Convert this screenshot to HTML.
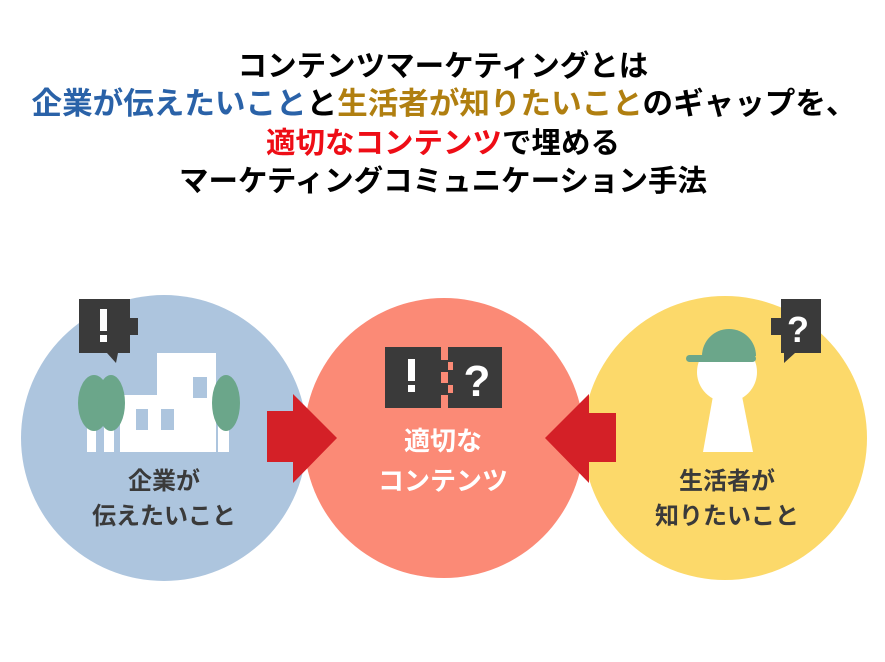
<!DOCTYPE html>
<html><head><meta charset="utf-8"><style>
html,body{margin:0;padding:0;background:#fff;width:885px;height:662px;overflow:hidden}
svg{display:block}
text{font-family:"Liberation Sans","Noto Sans CJK JP",sans-serif;font-weight:bold}
</style></head><body>
<svg width="885" height="662" viewBox="0 0 885 662" xmlns="http://www.w3.org/2000/svg">
<g font-size="29.5" text-anchor="middle" fill="#000">
<text x="443" y="76">コンテンツマーケティングとは</text>
<text x="444" y="114" textLength="825" lengthAdjust="spacingAndGlyphs" font-size="30.5"><tspan fill="#2a62a8">企業が伝えたいこと</tspan>と<tspan fill="#b07f10">生活者が知りたいこと</tspan>のギャップを、</text>
<text x="443" y="153"><tspan fill="#ee0d16">適切なコンテンツ</tspan>で埋める</text>
<text x="443" y="191">マーケティングコミュニケーション手法</text>
</g>
<circle cx="164" cy="438" r="143" fill="#adc5de"/>
<circle cx="725" cy="438" r="142" fill="#fcd96a"/>
<circle cx="444" cy="438" r="140" fill="#fb8a76"/>
<polygon points="267,411 293,411 293,394 337,438 293,483 293,462 267,462" fill="#d42027"/>
<polygon points="616,413 589,413 589,394 545,438 589,483 589,462 616,462" fill="#d42027"/>
<polygon points="79,299 130,299 130,318 138,318 138,335 130,335 130,353 118,353 116,363 107,353 79,353" fill="#3a3a3a"/>
<rect x="100" y="309" width="7" height="22" fill="#fff"/><rect x="100" y="335" width="7" height="7" fill="#fff"/>
<rect x="157" y="353" width="59" height="99" fill="#fff"/>
<rect x="120" y="395" width="96" height="57" fill="#fff"/>
<rect x="193" y="377" width="14" height="21" fill="#adc5de"/>
<rect x="136" y="409" width="12" height="21" fill="#adc5de"/>
<rect x="161" y="409" width="13" height="21" fill="#adc5de"/>
<rect x="87" y="425" width="9" height="27" fill="#fff"/><rect x="104" y="425" width="10" height="27" fill="#fff"/>
<rect x="218" y="425" width="11" height="27" fill="#fff"/>
<ellipse cx="94" cy="403" rx="16" ry="28" fill="#6ba68a"/>
<ellipse cx="111" cy="403" rx="14" ry="28" fill="#6ba68a"/>
<ellipse cx="226" cy="403" rx="14" ry="28" fill="#6ba68a"/>
<g font-size="24" fill="#3a3a3a" text-anchor="middle">
<text x="164" y="489">企業が</text>
<text x="164" y="524">伝えたいこと</text>
</g>
<rect x="385" y="347" width="117" height="61" fill="#3a3a3a"/>
<rect x="441" y="347" width="7" height="61" fill="#fb8a76"/>
<rect x="441" y="360" width="14" height="12" fill="#3a3a3a"/>
<rect x="441" y="383" width="14" height="12" fill="#3a3a3a"/>
<rect x="448" y="362" width="5" height="8" fill="#fb8a76"/>
<rect x="448" y="385" width="5" height="8" fill="#fb8a76"/>
<rect x="408" y="359" width="7" height="22" fill="#fff"/><rect x="408" y="385" width="7" height="7" fill="#fff"/>
<text x="477" y="396" font-size="44" fill="#fff" text-anchor="middle" style="font-weight:900">?</text>
<g font-size="26" fill="#fff" text-anchor="middle">
<text x="443" y="450">適切な</text>
<text x="443" y="490">コンテンツ</text>
</g>
<circle cx="727" cy="372" r="30" fill="#fff"/>
<polygon points="713,396 742,396 753,452 703,452" fill="#fff"/>
<path d="M702,356 A27,27 0 0 1 756,356 Z" fill="#6ba68a"/>
<rect x="686" y="355" width="70" height="7" rx="3.5" fill="#6ba68a"/>
<polygon points="781,299 821,299 821,353 795,353 784,363 784,353 781,353 781,335 771,335 771,318 781,318" fill="#3a3a3a"/>
<text x="798" y="342" font-size="36" fill="#fff" text-anchor="middle">?</text>
<g font-size="24" fill="#3a3a3a" text-anchor="middle">
<text x="727" y="489">生活者が</text>
<text x="727" y="524">知りたいこと</text>
</g>
</svg>
</body></html>
